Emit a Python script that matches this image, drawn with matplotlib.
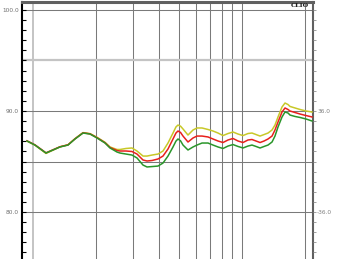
import matplotlib
matplotlib.use("Agg")
import matplotlib.pyplot as plt
from matplotlib.ticker import MultipleLocator, FixedLocator, NullFormatter

# frequency points (Hz) and levels (dB)
freq = [936, 1022, 1154, 1246, 1346, 1471, 1589, 1735, 1874, 2024, 2211,
        2336, 2523, 2608, 2786, 2976, 3145, 3360, 3512, 3710, 3964, 4188,
        4425, 4676, 4830, 4940, 5080, 5221, 5515, 5830, 6091, 6436, 6876, 7264, 7677,
        8111, 8570, 9056, 9570, 10110, 10680, 11160, 11670, 12200, 12750,
        13320, 13920, 14380, 14870, 15540, 16060, 16600, 16970, 17930,
        18950, 20240, 21620]

green = [87.03, 86.63, 85.84, 86.14, 86.44, 86.63, 87.23, 87.82, 87.72, 87.33, 86.83,
         86.34, 85.94, 85.84, 85.74, 85.64, 85.35, 84.65, 84.46, 84.50, 84.55, 84.85,
         85.54, 86.44, 87.02, 87.23, 87.05, 86.63, 86.14, 86.44, 86.63, 86.83, 86.83, 86.63, 86.44,
         86.29, 86.53, 86.68, 86.49, 86.34, 86.53, 86.63, 86.49, 86.34, 86.49,
         86.63, 86.93, 87.52, 88.42, 89.41, 89.90, 89.80, 89.60, 89.46,
         89.36, 89.21, 89.01]

red = [87.05, 86.65, 85.86, 86.16, 86.46, 86.65, 87.25, 87.84, 87.74, 87.36, 86.86,
       86.39, 86.09, 86.04, 86.04, 85.99, 85.74, 85.15, 85.05, 85.10, 85.25, 85.54,
       86.24, 87.23, 87.82, 88.02, 87.88, 87.52, 86.93, 87.33, 87.52, 87.52, 87.43, 87.23, 87.03,
       86.88, 87.13, 87.28, 87.03, 86.88, 87.13, 87.18, 87.03, 86.88, 87.03,
       87.23, 87.52, 88.12, 88.91, 89.90, 90.30, 90.15, 90.00, 89.85,
       89.70, 89.55, 89.41]

yellow = [87.02, 86.62, 85.80, 86.12, 86.45, 86.66, 87.26, 87.86, 87.76, 87.40, 86.90,
          86.44, 86.19, 86.19, 86.29, 86.34, 86.04, 85.54, 85.54, 85.64, 85.74, 86.04,
          86.83, 87.82, 88.42, 88.61, 88.50, 88.22, 87.62, 88.12, 88.32, 88.32, 88.17, 88.02, 87.82,
          87.57, 87.77, 87.92, 87.72, 87.57, 87.77, 87.82, 87.67, 87.52, 87.67,
          87.82, 88.12, 88.61, 89.41, 90.40, 90.79, 90.64, 90.45, 90.30,
          90.15, 90.00, 89.90]

grid_freqs = [2000, 3000, 4000, 5000, 6000, 7000, 8000, 9000, 10000, 20000]
grid_levels = [100, 90, 85, 80]
left_ticks = [100, 90, 80]
left_labels = ["100.0", "90.0", "80.0"]
right_ticks = [90, 80]
right_labels = ["36.0", "-36.0"]

fig = plt.figure(figsize=(3.42, 2.59), dpi=100)
ax = fig.add_axes([22 / 342, 0.0, 291 / 342, 1 - 2 / 259])
ax.set_xscale("log")
ax.set_xlim(886, 21860)
ax.set_ylim(75.35, 100.79)

# grid
for f in grid_freqs:
    ax.axvline(f, color="#7a7a7a", lw=0.75, zorder=1)
ax.axvline(1000, color="#c4c4c4", lw=1.4, zorder=1)
for lv in grid_levels:
    ax.axhline(lv, color="#7a7a7a", lw=0.75, zorder=1)
ax.axhline(95, color="#c4c4c4", lw=1.6, zorder=1)

ax.plot(freq, yellow, color="#c8c828", lw=1.1, zorder=3, solid_joinstyle="round")
ax.plot(freq, red, color="#e8201c", lw=1.1, zorder=4, solid_joinstyle="round")
ax.plot(freq, green, color="#2a962a", lw=1.1, zorder=5, solid_joinstyle="round")

# spines
ax.spines["bottom"].set_visible(False)
ax.spines["left"].set_color("black")
ax.spines["left"].set_linewidth(1.5)
ax.spines["top"].set_color("#606060")
ax.spines["top"].set_linewidth(2.2)
ax.spines["right"].set_color("#606060")
ax.spines["right"].set_linewidth(1.5)

ax.xaxis.set_major_locator(FixedLocator([]))
ax.xaxis.set_minor_locator(FixedLocator([]))
ax.yaxis.set_major_locator(FixedLocator(left_ticks))
ax.set_yticklabels(left_labels)
ax.yaxis.set_minor_locator(MultipleLocator(1))
ax.yaxis.set_minor_formatter(NullFormatter())
ax.tick_params(axis="y", which="both", direction="in", length=3, width=0.8,
               color="black", labelsize=4.2, labelcolor="#707070", pad=2)

ax2 = ax.twinx()
ax2.set_ylim(ax.get_ylim())
for s in ax2.spines.values():
    s.set_visible(False)
ax2.yaxis.set_major_locator(FixedLocator(right_ticks))
ax2.set_yticklabels(right_labels)
ax2.yaxis.set_minor_locator(MultipleLocator(1))
ax2.yaxis.set_minor_formatter(NullFormatter())
ax2.tick_params(axis="y", which="both", direction="out", length=2, width=0.6,
                color="#909090", labelsize=4.2, labelcolor="#808080", pad=1)

fig.text(300 / 342, 1 - 5.5 / 259, "CLIO", fontsize=4.6, fontweight="bold",
         family="DejaVu Serif", ha="center", va="center", color="#202020")

fig.savefig("out.png", dpi=100)
